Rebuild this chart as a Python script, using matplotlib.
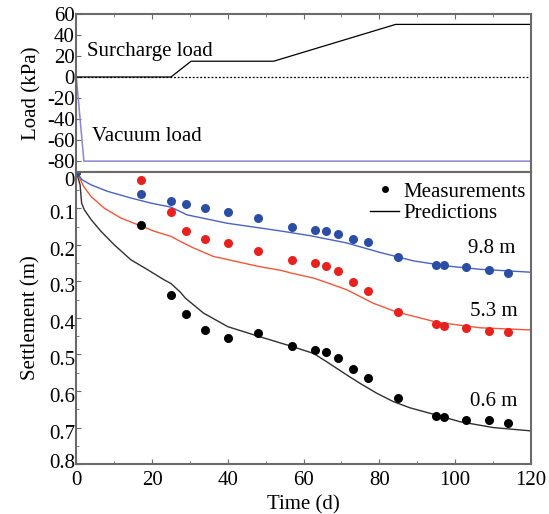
import numpy as np
import matplotlib
matplotlib.use("Agg")
import matplotlib.pyplot as plt
import matplotlib.transforms as mtrans
from matplotlib.ticker import MultipleLocator

plt.rcParams['font.family'] = ['Liberation Serif', 'DejaVu Serif']
plt.rcParams['axes.unicode_minus'] = False

# load history (kPa)
t_sur = [0, 25, 30.3, 52.1, 84.3, 120]
p_sur = [0, 0, 15, 15, 50, 50]
t_vac = [0, 2.0, 120]
p_vac = [0, -80, -80]

# measured settlement (m)
t_meas = [0, 17, 25, 29, 34, 40, 48, 57, 63, 66, 69, 73, 77, 85, 95, 97, 103, 109, 114]
s_06 = [0, 0.147, 0.337, 0.389, 0.433, 0.456, 0.44, 0.478, 0.487, 0.493, 0.51, 0.54, 0.565,
        0.619, 0.667, 0.670, 0.678, 0.680, 0.688]
s_53 = [0, 0.024, 0.111, 0.161, 0.183, 0.196, 0.216, 0.242, 0.251, 0.259, 0.272, 0.301, 0.326,
        0.384, 0.418, 0.421, 0.427, 0.435, 0.438]
s_98 = [0, 0.06, 0.079, 0.089, 0.10, 0.109, 0.127, 0.152, 0.16, 0.163, 0.17, 0.183, 0.193,
        0.233, 0.256, 0.256, 0.261, 0.268, 0.278]

# predicted settlement (m)
tp_06 = [0, 1.0, 1.4, 2.1, 3.9, 6.5, 10, 14.4, 18.8, 23.2, 25, 27.5, 28.8, 33.6, 40, 48, 56.9,
         62.6, 66.1, 71.4, 74.9, 79.3, 83.7, 88.1, 95.2, 101.3, 110.1, 120]
sp_06 = [0, 0.036, 0.086, 0.104, 0.131, 0.163, 0.2, 0.241, 0.268, 0.296, 0.306, 0.33, 0.346,
         0.387, 0.424, 0.45, 0.478, 0.497, 0.52, 0.556, 0.579, 0.606, 0.629, 0.646, 0.666,
         0.684, 0.70, 0.709]
tp_53 = [0, 0.3, 1.9, 3.9, 7.4, 11.8, 16.2, 20.6, 25, 27.5, 30.6, 36.2, 39.8, 48, 54, 57, 62.6,
         65.2, 71.4, 78.4, 84.6, 95.3, 106.6, 120]
sp_53 = [0, 0.004, 0.04, 0.068, 0.1, 0.127, 0.145, 0.163, 0.177, 0.191, 0.207, 0.232, 0.24,
         0.259, 0.27, 0.278, 0.291, 0.30, 0.323, 0.36, 0.384, 0.412, 0.427, 0.433]
tp_98 = [0, 1.5, 3.9, 8.3, 14.4, 19.7, 25, 29.2, 39.8, 48.5, 53.8, 61.7, 71.4, 80.2, 89, 97.8,
         106.6, 120]
sp_98 = [0, 0.022, 0.036, 0.054, 0.072, 0.086, 0.097, 0.118, 0.141, 0.154, 0.162, 0.175, 0.195,
         0.221, 0.244, 0.258, 0.267, 0.275]

fs = 15
spine_c = '#6a6a6a'

fig = plt.figure(figsize=(5.49, 5.14), dpi=100)
ax1 = fig.add_axes([0.139, 0.666, 0.828, 0.307])
ax2 = fig.add_axes([0.139, 0.097, 0.828, 0.569])

# top panel: loads
ax1.axhline(0, color='black', lw=0.9, ls=(0, (1.5, 1.5)))
ax1.plot(t_sur, p_sur, color='black', lw=0.9)
ax1.plot(t_vac, p_vac, color='#8c84d4', lw=1.1)
ax1.text(2.9, 24, 'Surcharge load', fontsize=fs, va='center')
ax1.text(4.2, -57, 'Vacuum load', fontsize=fs, va='center')
ax1.set_xlim(0, 120)
ax1.set_ylim(-90, 60)
ax1.set_yticks([60, 40, 20, 0, -20, -40, -60, -80])
ax1.xaxis.set_major_locator(MultipleLocator(20))
ax1.xaxis.set_minor_locator(MultipleLocator(10))
ax1.tick_params(axis='x', which='both', top=True, bottom=False, labelbottom=False, direction='in')
ax1.tick_params(axis='y', direction='in', labelsize=fs, pad=1)
ax1.set_ylabel('Load (kPa)', fontsize=fs, labelpad=4)

# bottom panel: settlement
ax2.plot(tp_06, sp_06, color='#303030', lw=1.0)
ax2.plot(tp_53, sp_53, color='#f2573a', lw=1.0)
ax2.plot(tp_98, sp_98, color='#4a62c4', lw=1.0)
ax2.plot(t_meas, s_06, 'o', color='black', ms=6.5, mec='none')
ax2.plot(t_meas, s_53, 'o', color='#e8211e', ms=6.5, mec='none')
ax2.plot(t_meas, s_98, 'o', color='#2a4ea6', ms=6.5, mec='none')

ax2.text(103.3, 0.21, '9.8 m', fontsize=fs, va='center')
ax2.text(104, 0.383, '5.3 m', fontsize=fs, va='center')
ax2.text(104, 0.63, '0.6 m', fontsize=fs, va='center')

# legend
h1, = ax2.plot([], [], 'o', color='black', ms=5, mec='none')
h2, = ax2.plot([], [], '-', color='black', lw=1.0)
ax2.legend([h1, h2], ['Measurements', 'Predictions'], loc='upper right', fontsize=fs,
           frameon=False, handlelength=1.4, handletextpad=0.2, labelspacing=0.1,
           borderaxespad=0.1, bbox_to_anchor=(1.012, 1.0))

ax2.set_xlim(0, 120)
ax2.set_ylim(0.8, 0)
ax2.xaxis.set_major_locator(MultipleLocator(20))
ax2.xaxis.set_minor_locator(MultipleLocator(10))
ax2.set_yticks(np.arange(0, 0.81, 0.1))
ax2.set_yticklabels(['0', '0.1', '0.2', '0.3', '0.4', '0.5', '0.6', '0.7', '0.8'])
ax2.yaxis.set_minor_locator(MultipleLocator(0.05))
ax2.tick_params(which='both', direction='in', labelsize=fs)
ax2.tick_params(axis='y', pad=1)
ax2.tick_params(axis='x', pad=5)
ax2.set_xlabel('Time (d)', fontsize=fs, labelpad=4)
ax2.set_ylabel('Settlement (m)', fontsize=fs, labelpad=6)

# y tick labels sit a little below their ticks in the original
ylabs = ax2.get_yticklabels()
down = mtrans.ScaledTranslation(0, -4 / 100, fig.dpi_scale_trans)
up = mtrans.ScaledTranslation(0, 3 / 100, fig.dpi_scale_trans)
for lab in ylabs[1:-1]:
    lab.set_transform(lab.get_transform() + down)
ylabs[0].set_va('top')
ylabs[-1].set_transform(ylabs[-1].get_transform() + up)

for ax in (ax1, ax2):
    for sp in ax.spines.values():
        sp.set_color(spine_c)
        sp.set_linewidth(1.5)
    ax.tick_params(which='both', color=spine_c)

fig.savefig('out.png', dpi=100)
